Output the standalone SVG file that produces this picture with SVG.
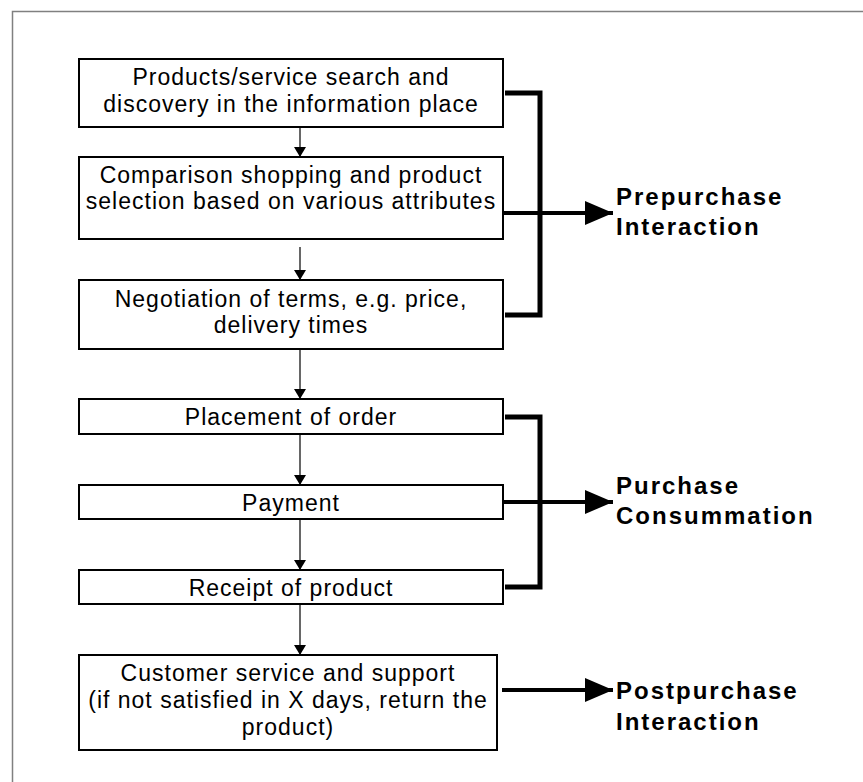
<svg xmlns="http://www.w3.org/2000/svg" width="863" height="782" viewBox="0 0 863 782">
  <defs>
    <style>
      .box { fill: #ffffff; stroke: #000000; stroke-width: 2; }
      .t { font-family: "Liberation Sans", Arial, sans-serif; font-size: 23px; letter-spacing: 1px; fill: #000000; text-anchor: middle; }
      .lbl { font-family: "Liberation Sans", Arial, sans-serif; font-size: 24px; font-weight: bold; letter-spacing: 2px; fill: #000000; }
      .flow { stroke: #000000; stroke-width: 1.2; fill: none; marker-end: url(#small); }
      .brk { stroke: #000000; stroke-width: 5; fill: none; stroke-linejoin: miter; }
      .big { stroke: #000000; stroke-width: 4; fill: none; marker-end: url(#bighead); }
    </style>
    <marker id="small" markerUnits="userSpaceOnUse" viewBox="0 0 10 12" refX="10" refY="6" markerWidth="10" markerHeight="12" orient="auto">
      <path d="M0,0 L10,6 L0,12 Z" fill="#000000"/>
    </marker>
    <marker id="bighead" markerUnits="userSpaceOnUse" viewBox="0 0 28 24" refX="28" refY="12" markerWidth="28" markerHeight="24" orient="auto">
      <path d="M0,0 L28,12 L0,24 Z" fill="#000000"/>
    </marker>
  </defs>
  <rect x="0" y="0" width="863" height="782" fill="#ffffff"/>
  <path d="M12.5,782 V11.5 H863" fill="none" stroke="#808080" stroke-width="1.5"/>

  <g id="connectors">
    <line class="flow" x1="300" y1="128" x2="300" y2="157"/>
    <line class="flow" x1="300" y1="247" x2="300" y2="280"/>
    <line class="flow" x1="300" y1="350" x2="300" y2="399"/>
    <line class="flow" x1="300" y1="435" x2="300" y2="485"/>
    <line class="flow" x1="300" y1="520" x2="300" y2="570"/>
    <line class="flow" x1="300" y1="605" x2="300" y2="655"/>
    <polyline class="brk" points="505,93 540,93 540,315 505,315"/>
    <line class="big" x1="504" y1="213" x2="613" y2="213"/>
    <polyline class="brk" points="505,417 540,417 540,587 505,587"/>
    <line class="big" x1="504" y1="502" x2="613" y2="502"/>
    <line class="big" x1="502" y1="690" x2="613" y2="690"/>
  </g>

  <g id="node-search">
    <rect class="box" x="79" y="59" width="424" height="68"/>
    <text class="t" x="291" y="85">Products/service search and</text>
    <text class="t" x="291" y="112">discovery in the information place</text>
  </g>
  <g id="node-comparison">
    <rect class="box" x="79" y="157" width="424" height="82"/>
    <text class="t" x="291" y="183">Comparison shopping and product</text>
    <text class="t" x="291" y="209">selection based on various attributes</text>
  </g>
  <g id="node-negotiation">
    <rect class="box" x="79" y="280" width="424" height="69"/>
    <text class="t" x="291" y="307">Negotiation of terms, e.g. price,</text>
    <text class="t" x="291" y="333">delivery times</text>
  </g>
  <g id="node-order">
    <rect class="box" x="79" y="399" width="424" height="35"/>
    <text class="t" x="291" y="425">Placement of order</text>
  </g>
  <g id="node-payment">
    <rect class="box" x="79" y="485" width="424" height="34"/>
    <text class="t" x="291" y="511">Payment</text>
  </g>
  <g id="node-receipt">
    <rect class="box" x="79" y="570" width="424" height="34"/>
    <text class="t" x="291" y="596">Receipt of product</text>
  </g>
  <g id="node-service">
    <rect class="box" x="79" y="655" width="418" height="95"/>
    <text class="t" x="288" y="681">Customer service and support</text>
    <text class="t" x="288" y="708">(if not satisfied in X days, return the</text>
    <text class="t" x="288" y="735">product)</text>
  </g>

  <g id="label-prepurchase">
    <text class="lbl" x="616" y="205">Prepurchase</text>
    <text class="lbl" x="616" y="235">Interaction</text>
  </g>
  <g id="label-purchase">
    <text class="lbl" x="616" y="494">Purchase</text>
    <text class="lbl" x="616" y="524">Consummation</text>
  </g>
  <g id="label-postpurchase">
    <text class="lbl" x="616" y="699">Postpurchase</text>
    <text class="lbl" x="616" y="730">Interaction</text>
  </g>
</svg>
